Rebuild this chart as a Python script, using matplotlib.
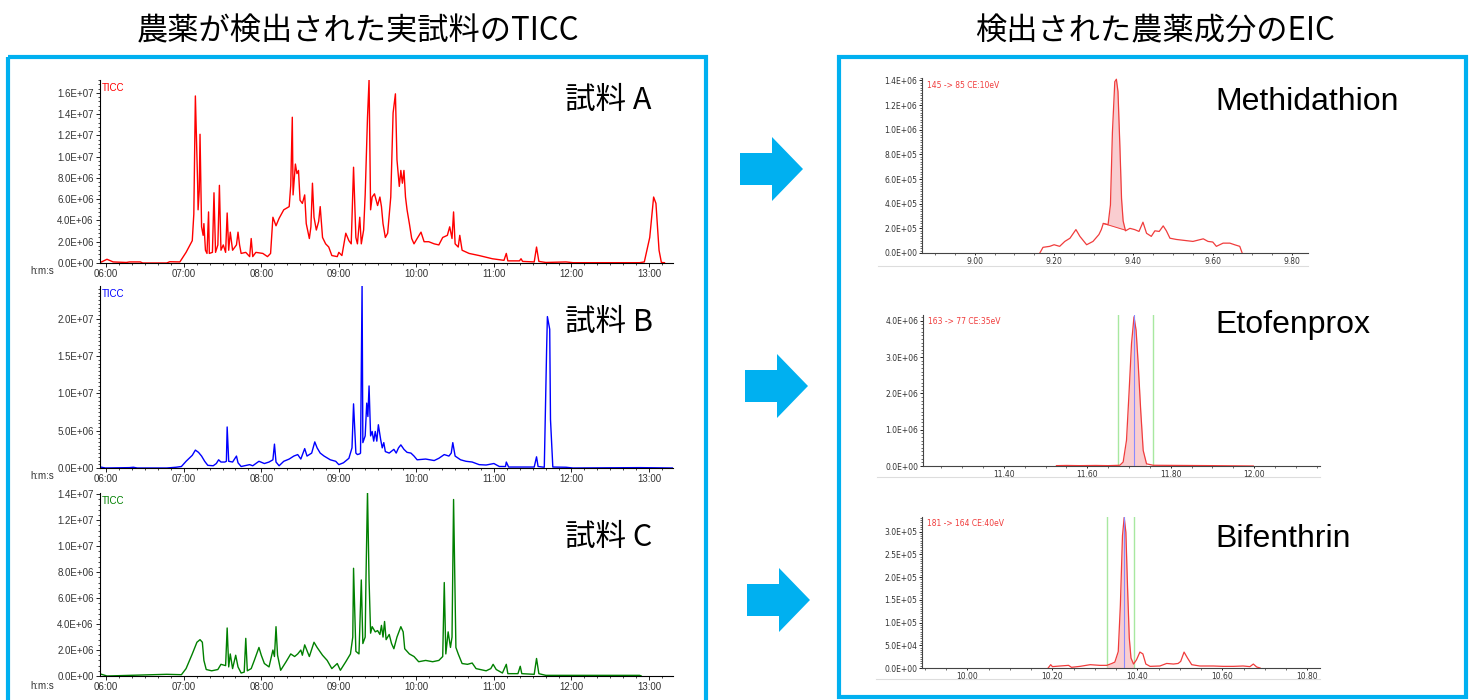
import numpy as np
import matplotlib
matplotlib.use('Agg')
import matplotlib.pyplot as plt
from matplotlib.patches import Rectangle, FancyArrow
from matplotlib.ticker import MultipleLocator, AutoMinorLocator, FuncFormatter

plt.rcParams['font.family'] = ['Liberation Sans', 'Noto Sans CJK JP']

# ---- TICC data (retention time, intensity x1e6) ----
ticc_a_time = [5.94, 6.01, 6.09, 6.26, 6.30, 6.44, 6.47, 6.78, 6.82, 6.95, 7.03, 7.11, 7.13, 7.15, 7.18, 7.185,
               7.20, 7.21, 7.23, 7.25, 7.26, 7.28, 7.30, 7.32, 7.33, 7.37, 7.39, 7.41, 7.44, 7.46, 7.48, 7.51,
               7.54, 7.56, 7.58, 7.60, 7.63, 7.68, 7.70, 7.72, 7.74, 7.80, 7.85, 7.87, 7.89, 7.93, 8.02, 8.08,
               8.12, 8.15, 8.19, 8.23, 8.29, 8.36, 8.38, 8.40, 8.41, 8.44, 8.46, 8.48, 8.50, 8.53, 8.56, 8.58,
               8.62, 8.64, 8.66, 8.68, 8.71, 8.74, 8.76, 8.79, 8.83, 8.87, 8.91, 8.98, 9.00, 9.04,
               9.09, 9.13, 9.16, 9.19, 9.22, 9.24, 9.27, 9.29, 9.32, 9.34, 9.37, 9.39, 9.41, 9.43, 9.46, 9.50,
               9.53, 9.55, 9.57, 9.60, 9.63, 9.67, 9.70, 9.73, 9.75, 9.78, 9.80, 9.82, 9.84, 9.86, 9.88, 9.91,
               9.94, 9.97, 10.01, 10.06, 10.10, 10.16, 10.23, 10.29, 10.34, 10.40, 10.43, 10.46, 10.48, 10.50,
               10.54, 10.56, 10.59, 10.68, 10.81, 10.98, 11.13, 11.16, 11.18, 11.33, 11.35, 11.37, 11.52, 11.55,
               11.58, 11.67, 11.93, 12.02, 12.88, 12.94, 13.01, 13.06, 13.09, 13.13, 13.16, 13.20]
ticc_a_int = [0.1, 0.35, 0.1, 0.05, 0.1, 0.1, 0.0, 0.0, 0.12, 0.1, 1.0, 2.1, 4.6, 15.7, 7.2, 5.0,
              6.8, 12.1, 3.4, 2.6, 3.7, 1.2, 0.9, 4.8, 0.9, 1.0, 6.6, 1.0, 1.7, 7.3, 1.2, 1.7,
              1.0, 4.7, 1.2, 2.9, 1.2, 1.7, 2.9, 1.7, 0.9, 1.0, 0.6, 2.3, 0.6, 1.0, 0.9, 0.6,
              0.9, 4.3, 3.5, 4.2, 5.0, 5.3, 7.3, 13.7, 6.4, 9.3, 8.4, 8.7, 5.9, 5.6, 6.4, 3.7,
              2.3, 3.4, 7.5, 4.3, 3.1, 3.9, 5.3, 2.4, 1.8, 1.5, 0.7, 0.6, 1.0, 0.7,
              2.8, 2.1, 1.8, 9.0, 2.4, 1.8, 4.3, 1.8, 3.1, 6.4, 13.7, 17.2, 5.0, 6.2, 6.5, 5.4,
              6.2, 5.3, 3.7, 2.4, 2.8, 6.2, 14.1, 15.9, 9.7, 7.2, 8.7, 7.5, 8.7, 6.2, 5.0, 3.7,
              2.3, 1.8, 2.3, 2.9, 2.0, 2.0, 1.8, 1.7, 2.4, 2.6, 3.4, 2.3, 4.8, 1.8,
              1.5, 2.6, 1.2, 0.9, 0.7, 0.4, 0.25, 0.9, 0.2, 0.2, 0.4, 0.15, 0.1, 1.5,
              0.15, 0.05, 0.1, 0.03, 0.03, 0.1, 2.4, 6.2, 5.6, 1.2, 0.05, 0.03]

ticc_b_time = [5.94, 5.99, 6.30, 6.35, 6.40, 6.78, 6.90, 6.97, 7.03, 7.11, 7.15, 7.19, 7.23, 7.27, 7.31, 7.38,
               7.42, 7.45, 7.48, 7.53, 7.55, 7.56, 7.58, 7.63, 7.68, 7.70, 7.74, 7.85, 7.89, 7.97, 8.04, 8.10,
               8.15, 8.17, 8.19, 8.23, 8.29, 8.36, 8.42, 8.47, 8.51, 8.56, 8.59, 8.65, 8.69, 8.72, 8.76, 8.81,
               8.89, 8.96, 9.00, 9.06, 9.13, 9.17, 9.19, 9.22, 9.24, 9.27, 9.28, 9.30, 9.31, 9.34, 9.36, 9.375,
               9.39, 9.41, 9.43, 9.45, 9.47, 9.49, 9.51, 9.54, 9.56, 9.58, 9.60, 9.65, 9.71, 9.74, 9.77, 9.80,
               9.84, 9.88, 9.93, 9.97, 10.01, 10.12, 10.23, 10.29, 10.36, 10.42, 10.45, 10.47, 10.50, 10.57,
               10.64, 10.72, 10.81, 10.90, 11.00, 11.07, 11.15, 11.16, 11.19, 11.52, 11.55, 11.57, 11.65, 11.68,
               11.69, 11.72, 11.73, 11.76, 11.93, 12.02, 12.88, 13.31]
ticc_b_int = [0.1, 0.0, 0.05, 0.1, 0.0, 0.0, 0.1, 0.2, 0.9, 1.7, 2.4, 2.1, 1.6, 0.9, 0.36, 0.3,
              0.6, 1.1, 0.8, 0.8, 0.9, 5.5, 0.9, 0.8, 1.6, 0.7, 0.2, 0.45, 0.3, 0.9, 0.6, 0.8,
              1.1, 3.2, 0.8, 0.3, 0.9, 1.2, 1.6, 1.8, 1.2, 2.6, 1.6, 2.0, 3.5, 2.7, 2.0, 1.6,
              1.1, 0.9, 0.45, 0.7, 1.3, 2.7, 8.6, 2.0, 1.8, 1.9, 2.0, 24.5, 3.4, 4.3, 8.7, 6.9,
              11.0, 4.3, 4.9, 3.6, 4.9, 3.6, 5.8, 3.8, 2.7, 3.4, 2.2, 2.0, 2.5, 2.0, 2.7, 3.1,
              2.5, 2.1, 2.0, 1.6, 1.1, 1.2, 1.0, 1.3, 1.8, 1.6, 2.0, 3.4, 1.6, 1.1,
              0.9, 0.8, 0.45, 0.4, 0.6, 0.2, 0.2, 0.8, 0.13, 0.13, 1.5, 0.2, 0.1, 15.9,
              20.3, 18.6, 6.5, 0.13, 0.1, 0.0, 0.05, 0.0]

ticc_c_time = [5.94, 6.01, 6.78, 6.97, 7.03, 7.11, 7.17, 7.21, 7.24, 7.26, 7.29, 7.36, 7.44, 7.48, 7.54, 7.56,
               7.58, 7.60, 7.63, 7.67, 7.70, 7.74, 7.78, 7.80, 7.82, 7.87, 7.91, 7.97, 8.00, 8.04, 8.10, 8.15,
               8.17, 8.19, 8.21, 8.25, 8.32, 8.38, 8.43, 8.47, 8.51, 8.53, 8.56, 8.62, 8.68, 8.72, 8.79, 8.85,
               8.91, 8.98, 9.02, 9.09, 9.15, 9.18, 9.19, 9.22, 9.26, 9.29, 9.31, 9.34, 9.35, 9.37, 9.39, 9.41,
               9.43, 9.47, 9.50, 9.53, 9.55, 9.57, 9.59, 9.61, 9.65, 9.68, 9.71, 9.75, 9.80, 9.83, 9.85, 9.91,
               9.97, 10.03, 10.12, 10.21, 10.29, 10.34, 10.36, 10.38, 10.41, 10.44, 10.46, 10.48, 10.51, 10.54,
               10.59, 10.66, 10.72, 10.77, 10.90, 10.96, 10.99, 11.03, 11.11, 11.16, 11.18, 11.31, 11.34, 11.36,
               11.52, 11.55, 11.58, 11.67, 12.88, 12.90]
ticc_c_int = [0.13, 0.0, 0.13, 0.1, 0.57, 1.7, 2.6, 2.8, 2.6, 1.2, 0.5, 0.4, 0.5, 0.9, 0.8, 3.7,
              0.7, 1.7, 0.57, 1.6, 0.7, 0.23, 0.3, 2.9, 0.4, 0.57, 1.2, 2.2, 1.6, 0.96, 0.7, 2.0,
              1.5, 3.8, 1.6, 0.44, 1.1, 1.7, 1.5, 1.7, 2.0, 1.6, 2.4, 1.5, 2.6, 2.2, 1.6, 1.2,
              0.57, 0.96, 0.44, 1.1, 1.7, 3.0, 8.3, 1.9, 1.7, 7.4, 2.5, 3.0, 7.4, 14.2, 7.4, 3.3,
              3.8, 3.4, 3.5, 3.2, 3.9, 3.0, 4.2, 2.8, 3.2, 2.5, 2.1, 3.0, 3.8, 3.4, 2.1, 1.7,
              1.5, 1.1, 1.2, 1.1, 1.2, 1.5, 7.2, 1.7, 3.4, 2.2, 3.0, 13.6, 2.2, 1.7,
              0.96, 0.9, 1.0, 0.57, 0.4, 0.57, 0.9, 0.5, 0.23, 0.9, 0.18, 0.18, 0.75, 0.18,
              0.13, 1.35, 0.18, 0.05, 0.05, 0.0]

# ---- EIC data ----
methi_time = [9.164, 9.172, 9.189, 9.200, 9.214, 9.227, 9.240, 9.255, 9.265, 9.282, 9.298, 9.313, 9.319,
              9.324, 9.336, 9.342, 9.347, 9.353, 9.357, 9.361, 9.366, 9.370, 9.374, 9.380, 9.391, 9.403,
              9.414, 9.424, 9.433, 9.445, 9.454, 9.465, 9.475, 9.483, 9.492, 9.508, 9.534, 9.550, 9.576,
              9.588, 9.600, 9.609, 9.626, 9.643, 9.655, 9.668, 9.674]
methi_int = [0.0, 0.46, 0.54, 0.67, 0.54, 0.94, 1.2, 1.9, 1.35, 0.67, 0.94, 1.5, 1.9,
             2.4, 2.3, 3.9, 9.8, 13.9, 14.1, 13.1, 8.5, 4.4, 2.6, 1.8, 2.0, 1.9,
             1.75, 2.5, 1.6, 1.35, 1.8, 1.75, 2.2, 1.8, 1.2, 1.1, 1.0, 0.94, 1.15,
             0.94, 0.89, 0.54, 0.8, 0.8, 0.67, 0.54, 0.0]  # x1e5
methi_base_time = [9.324, 9.380]
methi_base_int = [2.4, 1.85]

etofen_time = [11.526, 11.55, 11.58, 11.62, 11.65, 11.678, 11.686, 11.694, 11.700, 11.706, 11.712, 11.717,
               11.722, 11.728, 11.734, 11.742, 11.758, 11.90, 11.998]
etofen_int = [0.01, 0.015, 0.01, 0.015, 0.01, 0.02, 0.11, 0.71, 2.0, 3.37, 4.11, 3.74,
              2.82, 1.54, 0.43, 0.06, 0.02, 0.01, 0.0]  # x1e6
etofen_window = [11.674, 11.757]
etofen_apex = 11.712

bifen_time = [10.190, 10.196, 10.200, 10.218, 10.238, 10.245, 10.265, 10.289, 10.312, 10.328, 10.340, 10.347,
              10.355, 10.360, 10.365, 10.369, 10.373, 10.377, 10.381, 10.385, 10.391, 10.398, 10.406, 10.413,
              10.420, 10.430, 10.453, 10.469, 10.485, 10.496, 10.502, 10.510, 10.518, 10.528, 10.547, 10.579,
              10.602, 10.626, 10.649, 10.665, 10.673, 10.681, 10.689]
bifen_int = [0.0, 0.73, 0.3, 0.44, 0.58, 0.15, 0.36, 0.73, 0.58, 0.58, 1.0, 1.3,
             3.6, 13.8, 29.1, 33.1, 29.8, 17.5, 6.6, 2.2, 0.87, 1.8, 3.5, 3.1,
             0.87, 0.36, 0.44, 1.0, 0.87, 1.0, 1.45, 3.5, 2.2, 0.73, 0.44, 0.44,
             0.36, 0.36, 0.44, 0.3, 0.87, 0.22, 0.0]  # x1e4
bifen_window = [10.328, 10.391]
bifen_apex = 10.369

W, H = 1474, 700
CYAN = '#00b0f0'


def px_axes(fig, left, top, right, bottom):
    ax = fig.add_axes([left / W, 1 - bottom / H, (right - left) / W, (bottom - top) / H])
    ax.patch.set_alpha(0)
    return ax


def sci(y, pos):
    return '%.1E' % y


def style_ticc(ax, t, v, color, ymax, ystep, nminor):
    ax.plot(t, np.array(v) * 1e6, color=color, lw=1.0)
    ax.set_xlim(5.92, 13.31)
    ax.set_ylim(0, ymax)
    ax.spines[['top', 'right']].set_visible(False)
    for s in ('left', 'bottom'):
        ax.spines[s].set_linewidth(0.8)
    ax.xaxis.set_major_locator(MultipleLocator(1))
    ax.xaxis.set_minor_locator(MultipleLocator(1 / 6))
    ax.xaxis.set_major_formatter(FuncFormatter(lambda x, p: '%02d:00' % round(x)))
    ax.yaxis.set_major_locator(MultipleLocator(ystep))
    ax.yaxis.set_minor_locator(AutoMinorLocator(nminor))
    ax.yaxis.set_major_formatter(FuncFormatter(sci))
    ax.tick_params(which='major', direction='out', length=3, width=0.6, labelsize=7,
                   labelcolor='#333333', pad=1.5)
    ax.tick_params(which='minor', direction='out', length=1.5, width=0.5)
    ax.text(0.004, 0.985, 'TICC', color=color, fontsize=7, transform=ax.transAxes,
            ha='left', va='top')


def style_eic(ax, t, v, scale, xlim, ymax, ystep, xstart, label):
    ax.plot(t, np.array(v) * scale, color='#f03c3c', lw=0.9, zorder=3)
    ax.set_xlim(*xlim)
    ax.set_ylim(0, ymax)
    ax.spines[['top', 'right']].set_visible(False)
    for s in ('left', 'bottom'):
        ax.spines[s].set_linewidth(0.8)
        ax.spines[s].set_color('#444444')
    ax.set_xticks(np.arange(xstart, xlim[1], 0.2))
    ax.xaxis.set_minor_locator(MultipleLocator(0.05))
    ax.xaxis.set_major_formatter(FuncFormatter(lambda x, p: '%.2f' % x))
    ax.yaxis.set_major_locator(MultipleLocator(ystep))
    ax.yaxis.set_minor_locator(AutoMinorLocator(10))
    ax.yaxis.set_major_formatter(FuncFormatter(sci))
    ax.tick_params(axis='y', which='major', direction='out', length=2.5, width=0.6, labelsize=5.5,
                   labelcolor='#333333', pad=1)
    ax.tick_params(axis='x', which='major', direction='out', length=1.5, width=0.6, labelsize=5.5,
                   labelcolor='#333333', pad=1.5)
    ax.tick_params(which='minor', direction='out', length=1.2, width=0.4)
    for lab in ax.get_xticklabels() + ax.get_yticklabels():
        lab.set_family('DejaVu Sans')
    ax.text(0.012, 0.985, label, color='#f03c3c', fontsize=5.5, family='DejaVu Sans',
            transform=ax.transAxes, ha='left', va='top')
    ax.plot([-0.115, 1.0], [-0.075, -0.075], transform=ax.transAxes, clip_on=False,
            color='#dddddd', lw=0.8)


fig = plt.figure(figsize=(W / 100, H / 100), dpi=100)

# overlay layer: frames, arrows, titles (drawn on top, no background patch)
bg = fig.add_axes([0, 0, 1, 1])
bg.set_xlim(0, W)
bg.set_ylim(H, 0)
bg.axis('off')
bg.set_zorder(10)
bg.add_patch(Rectangle((8, 57), 698, 646, fill=False, ec=CYAN, lw=3))
bg.add_patch(Rectangle((839, 57), 627, 640, fill=False, ec=CYAN, lw=3))
for x0, y0 in [(740, 169), (745, 386), (747, 600)]:
    bg.add_patch(FancyArrow(x0, y0, 63, 0, width=32, head_width=64, head_length=31,
                            length_includes_head=True, color=CYAN, lw=0))

cjk = ['Noto Sans CJK JP', 'DejaVu Sans']
bg.text(358, 40, '農薬が検出された実試料のTICC', family=cjk, fontsize=22.5, ha='center', va='baseline')
bg.text(1155, 40, '検出された農薬成分のEIC', family=cjk, fontsize=22.5, ha='center', va='baseline')
for lab, yb in [('試料 A', 109), ('試料 B', 331), ('試料 C', 546)]:
    bg.text(565, yb, lab, family=cjk, fontsize=22, ha='left', va='baseline')
for lab, yb in [('Methidathion', 110), ('Etofenprox', 333), ('Bifenthrin', 547)]:
    bg.text(1215, yb, lab, fontsize=23, ha='left', va='baseline')
for yb in [271, 476, 686]:
    bg.text(30, yb, 'h:m:s', fontsize=7, color='#333333', ha='left', va='center')

# TICC panels
ax_a = px_axes(fig, 100, 80, 673, 263)
style_ticc(ax_a, ticc_a_time, ticc_a_int, '#ff0000', 1.72e7, 2e6, 5)
ax_b = px_axes(fig, 100, 286, 673, 468)
style_ticc(ax_b, ticc_b_time, ticc_b_int, '#0000ff', 2.44e7, 5e6, 10)
ax_c = px_axes(fig, 100, 493, 673, 676)
style_ticc(ax_c, ticc_c_time, ticc_c_int, '#008000', 1.41e7, 2e6, 5)

# EIC panels
ax_m = px_axes(fig, 922, 78, 1308, 253)
style_eic(ax_m, methi_time, methi_int, 1e5, (8.867, 9.84), 1.42e6, 2e5, 9.0, '145 -> 85 CE:10eV')
mt = np.array(methi_time)
mv = np.array(methi_int) * 1e5
sel = (mt >= methi_base_time[0]) & (mt <= methi_base_time[1])
base = np.interp(mt[sel], methi_base_time, np.array(methi_base_int) * 1e5)
ax_m.fill_between(mt[sel], base, mv[sel], color='#f7b8bc', alpha=0.7, lw=0, zorder=2)
ax_m.plot(methi_base_time, np.array(methi_base_int) * 1e5, color='#f03c3c', lw=0.7, zorder=3)

ax_e = px_axes(fig, 923, 315, 1320, 466)
style_eic(ax_e, etofen_time, etofen_int, 1e6, (11.206, 12.158), 4.16e6, 1e6, 11.4, '163 -> 77 CE:35eV')
et = np.array(etofen_time)
ev = np.array(etofen_int) * 1e6
ax_e.fill_between(et, 0, ev, where=(et >= etofen_window[0]) & (et <= etofen_window[1]),
                  color='#f7b8bc', alpha=0.7, lw=0, zorder=2)
for xv in etofen_window:
    ax_e.axvline(xv, color='#a8e8a0', lw=1.0, zorder=1)
ax_e.axvline(etofen_apex, color='#8a8aff', lw=0.8, zorder=4)

ax_f = px_axes(fig, 922, 517, 1320, 668)
style_eic(ax_f, bifen_time, bifen_int, 1e4, (9.893, 10.83), 3.32e5, 5e4, 10.0, '181 -> 164 CE:40eV')
bt = np.array(bifen_time)
bv = np.array(bifen_int) * 1e4
ax_f.fill_between(bt, 0, bv, where=(bt >= bifen_window[0]) & (bt <= bifen_window[1]),
                  color='#f7b8bc', alpha=0.7, lw=0, zorder=2)
for xv in bifen_window:
    ax_f.axvline(xv, color='#a8e8a0', lw=1.0, zorder=1)
ax_f.axvline(bifen_apex, color='#8a8aff', lw=0.8, zorder=4)

fig.savefig('out.png', dpi=100)
